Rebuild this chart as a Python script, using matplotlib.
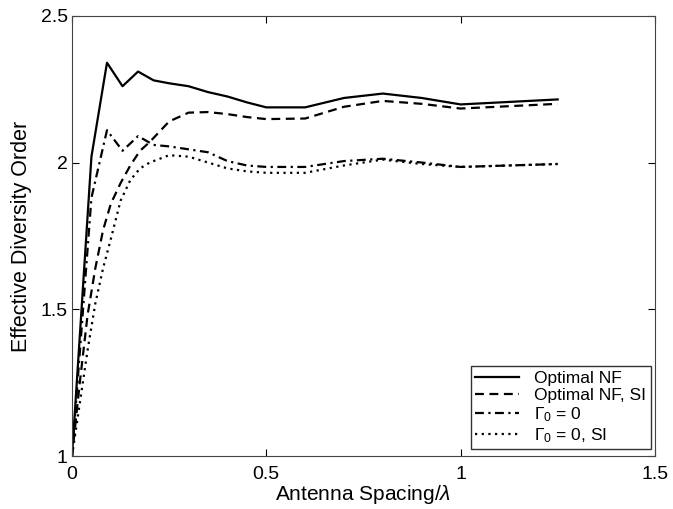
import matplotlib
matplotlib.use('Agg')
import matplotlib.pyplot as plt

# data
x_opt = [0, 0.05, 0.09, 0.13, 0.17, 0.21, 0.25, 0.3, 0.35, 0.4, 0.45, 0.5, 0.6, 0.7, 0.8, 0.9, 1.0, 1.25]
y_opt = [1.0, 2.02, 2.34, 2.26, 2.31, 2.28, 2.27, 2.26, 2.24, 2.225, 2.205, 2.188, 2.188, 2.22, 2.235, 2.22, 2.198, 2.215]
y_g0 = [1.0, 1.88, 2.11, 2.04, 2.09, 2.06, 2.055, 2.045, 2.035, 2.005, 1.99, 1.985, 1.985, 2.005, 2.013, 2.0, 1.985, 1.995]

x_si = [0, 0.02, 0.04, 0.06, 0.08, 0.1, 0.125, 0.15, 0.175, 0.2, 0.25, 0.3, 0.35, 0.4, 0.45, 0.5, 0.6, 0.7, 0.8, 0.9, 1.0, 1.25]
y_opt_si = [1.0, 1.25, 1.48, 1.64, 1.77, 1.86, 1.93, 1.99, 2.04, 2.07, 2.14, 2.17, 2.172, 2.165, 2.155, 2.148, 2.15, 2.19, 2.21, 2.20, 2.184, 2.20]
y_g0_si = [1.0, 1.18, 1.36, 1.52, 1.64, 1.74, 1.87, 1.94, 1.98, 2.0, 2.025, 2.02, 2.0, 1.98, 1.97, 1.965, 1.965, 1.99, 2.01, 1.995, 1.985, 1.995]

labels = ['Optimal NF', 'Optimal NF, SI', r'$\Gamma_0$ = 0', r'$\Gamma_0$ = 0, SI']

plt.rcParams['font.family'] = ['Liberation Sans', 'DejaVu Sans']
plt.rcParams['mathtext.fontset'] = 'custom'
plt.rcParams['mathtext.rm'] = 'Liberation Sans'
plt.rcParams['mathtext.it'] = 'Liberation Sans:italic'

fig = plt.figure(figsize=(6.73, 5.09), dpi=100)
ax = fig.add_axes([0.107, 0.104, 0.866, 0.865])

lw = 1.6
ax.plot(x_opt, y_opt, color='black', lw=lw, ls='-', label=labels[0])
ax.plot(x_si, y_opt_si, color='black', lw=lw, ls=(0, (4, 2.5)), label=labels[1])
ax.plot(x_opt, y_g0, color='black', lw=lw, ls=(0, (4, 2, 1, 2)), label=labels[2])
ax.plot(x_si, y_g0_si, color='black', lw=lw, ls=(0, (1, 2)), label=labels[3])

ax.set_xlim(0, 1.5)
ax.set_ylim(1, 2.5)
ax.set_xticks([0, 0.5, 1, 1.5])
ax.set_xticklabels(['0', '0.5', '1', '1.5'])
ax.set_yticks([1, 1.5, 2, 2.5])
ax.set_yticklabels(['1', '1.5', '2', '2.5'])
ax.tick_params(direction='in', top=True, right=True, labelsize=14, length=5)
ax.tick_params(axis='x', pad=7)
ax.tick_params(axis='y', pad=3)
for s in ax.spines.values():
    s.set_color('#444444')

ax.set_xlabel(r'Antenna Spacing/$\lambda$', fontsize=15, labelpad=0)
ax.set_ylabel('Effective Diversity Order', fontsize=15.5, labelpad=6)

leg = ax.legend(loc='lower right', bbox_to_anchor=(0.993, 0.016), fontsize=12.5,
                frameon=True, fancybox=False, edgecolor='black',
                handlelength=2.5, handletextpad=0.9, borderaxespad=0,
                borderpad=0.25, labelspacing=0.12)
leg.get_frame().set_linewidth(1.0)

fig.savefig('out.png', dpi=100)
